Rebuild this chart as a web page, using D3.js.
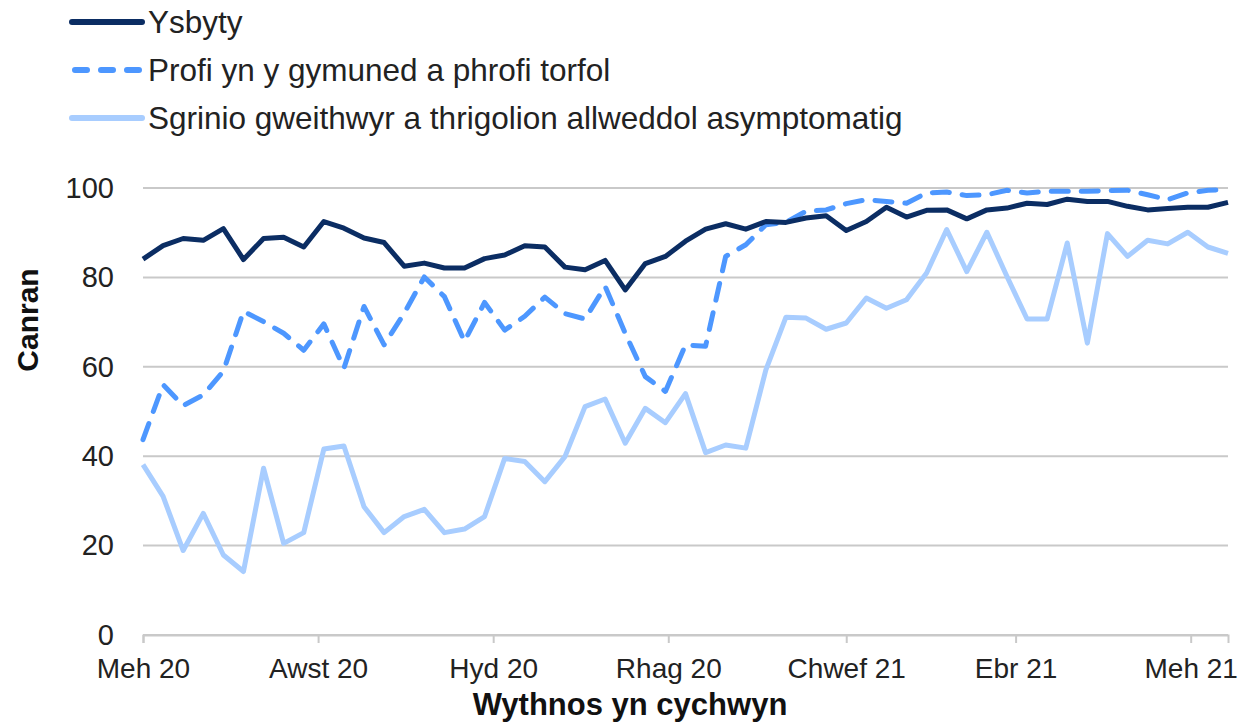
<!DOCTYPE html>
<html>
<head>
<meta charset="utf-8">
<script src="https://cdn.jsdelivr.net/npm/d3@7"></script>
<style>
  body { margin: 0; background: #fff; }
  text { font-family: "Liberation Sans", Arial, sans-serif; }
</style>
</head>
<body>
<div id="container"></div>
<script>
// week start dates (Monday)
const weeks = [
  "2020-06-01","2020-06-08","2020-06-15","2020-06-22","2020-06-29",
  "2020-07-06","2020-07-13","2020-07-20","2020-07-27",
  "2020-08-03","2020-08-10","2020-08-17","2020-08-24","2020-08-31",
  "2020-09-07","2020-09-14","2020-09-21","2020-09-28",
  "2020-10-05","2020-10-12","2020-10-19","2020-10-26",
  "2020-11-02","2020-11-09","2020-11-16","2020-11-23","2020-11-30",
  "2020-12-07","2020-12-14","2020-12-21","2020-12-28",
  "2021-01-04","2021-01-11","2021-01-18","2021-01-25",
  "2021-02-01","2021-02-08","2021-02-15","2021-02-22",
  "2021-03-01","2021-03-08","2021-03-15","2021-03-22","2021-03-29",
  "2021-04-05","2021-04-12","2021-04-19","2021-04-26",
  "2021-05-03","2021-05-10","2021-05-17","2021-05-24","2021-05-31",
  "2021-06-07","2021-06-14"
];

const ysbyty = [84.1,87.1,88.7,88.3,90.9,84.0,88.7,89.0,86.8,92.5,
  91.0,88.8,87.8,82.5,83.2,82.1,82.1,84.2,85.0,87.1,
  86.8,82.3,81.7,83.8,77.2,83.1,84.7,88.1,90.8,92.0,
  90.8,92.5,92.3,93.3,93.8,90.5,92.5,95.7,93.5,95.0,
  95.1,93.1,95.1,95.5,96.6,96.3,97.5,97.0,97.0,95.9,
  95.1,95.4,95.7,95.7,96.8];

const profi = [43.7,56.0,51.3,53.7,59.0,72.4,70.1,67.5,63.7,69.6,
  59.7,73.5,64.9,72.0,80.1,75.7,65.7,74.4,68.2,71.3,
  75.6,71.9,70.7,78.0,67.5,57.8,54.5,64.9,64.6,84.7,
  87.3,91.8,92.3,94.8,95.1,96.5,97.4,97.0,96.6,98.9,
  99.1,98.3,98.5,99.5,98.9,99.3,99.3,99.3,99.4,99.5,
  98.5,97.4,98.9,99.5,99.6];

const sgrinio = [38.1,31.0,18.9,27.2,17.9,14.2,37.3,20.5,22.9,41.6,
  42.3,28.7,22.9,26.5,28.1,22.9,23.7,26.5,39.5,38.8,
  34.3,39.9,51.1,52.8,42.9,50.7,47.5,54.0,40.8,42.5,
  41.8,59.3,71.1,70.9,68.4,69.8,75.4,73.1,75.0,81.0,
  90.7,81.3,90.1,80.2,70.7,70.7,87.7,65.3,89.8,84.7,
  88.3,87.5,90.1,86.8,85.4];

const seriesNames = ["Ysbyty", "Profi yn y gymuned a phrofi torfol",
  "Sgrinio gweithwyr a thrigolion allweddol asymptomatig"];

const tickDates = ["2020-06-01","2020-08-01","2020-10-01","2020-12-01","2021-02-01","2021-04-01","2021-06-01"];
const tickLabels = ["Meh 20","Awst 20","Hyd 20","Rhag 20","Chwef 21","Ebr 21","Meh 21"];
const yTicks = [0, 20, 40, 60, 80, 100];

const W = 1246, H = 722;
const margin = {top: 188, right: 18, bottom: 87, left: 143};
const width = W - margin.left - margin.right;
const height = H - margin.top - margin.bottom;

const parse = d3.utcParse("%Y-%m-%d");
const dates = weeks.map(parse);

const svg = d3.select("#container").append("svg")
    .attr("width", W)
    .attr("height", H);

const g = svg.append("g")
    .attr("transform", "translate(" + margin.left + "," + margin.top + ")");

const x = d3.scaleUtc()
    .domain([dates[0], dates[dates.length - 1]])
    .range([0, width]);

const y = d3.scaleLinear()
    .domain([0, 100])
    .range([height, 0]);

// gridlines
g.selectAll(".grid")
    .data(yTicks)
    .enter()
    .append("line")
    .attr("class", "grid")
    .attr("x1", 0)
    .attr("x2", width)
    .attr("y1", d => y(d))
    .attr("y2", d => y(d))
    .attr("stroke", "#c9c9c9")
    .attr("stroke-width", 2);

// y axis labels
const yAxis = g.append("g")
    .call(d3.axisLeft(y).tickValues(yTicks).tickSize(0).tickPadding(29));
yAxis.select(".domain").remove();
yAxis.selectAll("text")
    .style("font-family", "Liberation Sans, Arial, sans-serif")
    .style("font-size", "29px")
    .attr("fill", "#222");

// x axis
const xAxis = g.append("g")
    .attr("transform", "translate(0," + height + ")")
    .call(d3.axisBottom(x)
        .tickValues(tickDates.map(parse))
        .tickFormat((d, i) => tickLabels[i])
        .tickSize(8)
        .tickPadding(15));
xAxis.select(".domain")
    .attr("stroke", "#c9c9c9")
    .attr("stroke-width", 2);
xAxis.selectAll(".tick line")
    .attr("stroke", "#c9c9c9")
    .attr("stroke-width", 2);
xAxis.selectAll("text")
    .style("font-family", "Liberation Sans, Arial, sans-serif")
    .style("font-size", "28px")
    .attr("fill", "#222");

// axis titles
svg.append("text")
    .text("Wythnos yn cychwyn")
    .attr("x", 630)
    .attr("y", 715)
    .attr("text-anchor", "middle")
    .style("font-size", "31px")
    .style("font-weight", "bold")
    .attr("fill", "#111");

svg.append("text")
    .text("Canran")
    .attr("transform", "translate(38,320) rotate(-90)")
    .attr("text-anchor", "middle")
    .style("font-size", "30px")
    .style("font-weight", "bold")
    .attr("fill", "#111");

const styles = [
    {color: "#0b2d63", dash: null},
    {color: "#4d97ff", dash: "17,13"},
    {color: "#a8cdff", dash: null}
];
const allSeries = [ysbyty, profi, sgrinio];

const line = d3.line()
    .x((d, i) => x(dates[i]))
    .y(d => y(d));

// draw light first so darker lines sit on top
[2, 1, 0].forEach(k => {
    g.append("path")
        .datum(allSeries[k])
        .attr("fill", "none")
        .attr("stroke", styles[k].color)
        .attr("stroke-width", 5)
        .attr("stroke-linejoin", "round")
        .attr("stroke-linecap", styles[k].dash ? "round" : "butt")
        .attr("stroke-dasharray", styles[k].dash)
        .attr("d", line);
});

// legend
const legend = svg.append("g").attr("transform", "translate(72,22)");
const item = legend.selectAll(".legend")
    .data(seriesNames)
    .enter()
    .append("g")
    .attr("class", "legend")
    .attr("transform", (d, i) => "translate(0," + i * 48 + ")");

item.append("line")
    .attr("x1", (d, i) => styles[i].dash ? 3 : 0)
    .attr("x2", 70)
    .attr("y1", 0)
    .attr("y2", 0)
    .attr("stroke", (d, i) => styles[i].color)
    .attr("stroke-width", 6)
    .attr("stroke-linecap", "round")
    .attr("stroke-dasharray", (d, i) => styles[i].dash ? "12,14" : null);

item.append("text")
    .attr("x", 76)
    .attr("y", 11)
    .style("font-size", "31.5px")
    .attr("fill", "#222")
    .text(d => d);
</script>
</body>
</html>
